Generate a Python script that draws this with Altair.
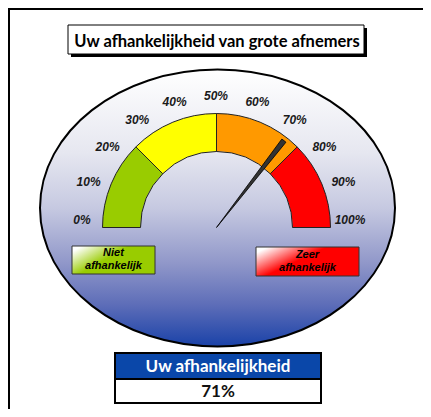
import math
import altair as alt
import pandas as pd

# ---------------- data ----------------
segment_names = ["laag", "matig", "hoog", "zeer hoog"]
segment_start = [0, 25, 50, 75]
segment_end = [25, 50, 75, 100]
segment_colors = ["#99CC00", "#FFFF00", "#FF9900", "#FF0000"]

tick_values = [0, 10, 20, 30, 40, 50, 60, 70, 80, 90, 100]
tick_labels = ["0%", "10%", "20%", "30%", "40%", "50%", "60%", "70%", "80%", "90%", "100%"]

score = [71]

title_text = ["Uw afhankelijkheid van grote afnemers"]
legend_low = ["Niet", "afhankelijk"]
legend_high = ["Zeer", "afhankelijk"]
table_header = ["Uw afhankelijkheid"]

# ---------------- layout constants ----------------
W, H = 415, 401
GX, GY = 208.5, 219.5          # gauge centre
theta_scale = alt.Scale(domain=[0, 100], range=[-math.pi / 2, math.pi / 2])

one = pd.DataFrame({"k": [0]})
seg_df = pd.DataFrame({"name": segment_names, "start": segment_start,
                       "end": segment_end, "color": segment_colors})
lab_df = pd.DataFrame({"p": tick_values, "label": tick_labels})
score_df = pd.DataFrame({"score": score})

# frame lines (top / left)
frame_top = alt.Chart(one).mark_rule(color="black", strokeWidth=2).encode(
    x=alt.value(0), x2=alt.value(W), y=alt.value(1))
frame_left = alt.Chart(one).mark_rule(color="black", strokeWidth=2).encode(
    x=alt.value(1), y=alt.value(0), y2=alt.value(H))

# title box
title_df = pd.DataFrame({"t": title_text})
title_shadow = alt.Chart(title_df).mark_rect(fill="black").encode(
    x=alt.value(63), x2=alt.value(359), y=alt.value(20), y2=alt.value(49))
title_box = alt.Chart(title_df).mark_rect(fill="white", stroke="black", strokeWidth=1).encode(
    x=alt.value(60), x2=alt.value(356), y=alt.value(17), y2=alt.value(46))
title_txt = alt.Chart(title_df).mark_text(
    font="Lato", fontSize=16.5, fontWeight="bold", color="black", baseline="alphabetic"
).encode(x=alt.value(209), y=alt.value(39), text="t:N")

# ellipse background
ell_grad = alt.LinearGradient(
    gradient="linear", x1=0, y1=0, x2=0, y2=1,
    stops=[alt.GradientStop(offset=0, color="#FFFFFF"),
           alt.GradientStop(offset=0.3, color="#E6E7F0"),
           alt.GradientStop(offset=0.5, color="#C6C9E1"),
           alt.GradientStop(offset=0.7, color="#9097C9"),
           alt.GradientStop(offset=0.85, color="#5D6DB8"),
           alt.GradientStop(offset=1, color="#1A42A8")])
ellipse = alt.Chart(one).mark_point(
    shape="M-1,0A1,0.78,0,1,1,1,0A1,0.78,0,1,1,-1,0Z",
    size=355 ** 2, filled=True, fill=ell_grad, stroke="black", strokeWidth=2, opacity=1
).encode(x=alt.value(209.5), y=alt.value(200))

# gauge segments
gauge = alt.Chart(seg_df).mark_arc(innerRadius=76, outerRadius=114, stroke="#222", strokeWidth=1).encode(
    theta=alt.Theta("start:Q", scale=theta_scale, stack=None),
    theta2="end:Q",
    color=alt.Color("color:N", scale=None, legend=None),
    x=alt.value(GX), y=alt.value(GY))

# tick labels
labels = alt.Chart(lab_df).transform_calculate(
    lx="208 - 134*cos(datum.p*PI/100)",
    ly="212 - 124*sin(datum.p*PI/100)"
).mark_text(font="Liberation Sans", fontSize=12, fontStyle="italic", fontWeight="bold", color="#1a1a1a").encode(
    x=alt.X("lx:Q", scale=None, axis=None),
    y=alt.Y("ly:Q", scale=None, axis=None),
    text="label:N")

# needle
needle = alt.Chart(score_df).transform_calculate(
    a="datum.score - 0.75", b="datum.score + 0.75"
).mark_arc(innerRadius=0, outerRadius=110, fill="#333333", stroke="#000000", strokeWidth=0.8).encode(
    theta=alt.Theta("a:Q", scale=theta_scale, stack=None),
    theta2="b:Q",
    x=alt.value(GX), y=alt.value(GY))

# legend boxes
def grad(col):
    return alt.LinearGradient(
        gradient="linear", x1=0, y1=0.2, x2=1, y2=0.8,
        stops=[alt.GradientStop(offset=0, color="#FFFFFF"),
               alt.GradientStop(offset=0.42, color=col),
               alt.GradientStop(offset=1, color=col)])

low_df = pd.DataFrame({"t": ["\n".join(legend_low)]})
high_df = pd.DataFrame({"t": ["\n".join(legend_high)]})
low_box = alt.Chart(low_df).mark_rect(fill=grad("#99CC00"), stroke="#333333", strokeWidth=1).encode(
    x=alt.value(64), x2=alt.value(147), y=alt.value(238), y2=alt.value(266))
low_txt = alt.Chart(low_df).mark_text(
    font="Liberation Sans", fontSize=11, fontStyle="italic", fontWeight="bold",
    color="black", lineBreak="\n", lineHeight=13
).encode(x=alt.value(105.5), y=alt.value(245), text="t:N")
high_box = alt.Chart(high_df).mark_rect(fill=grad("#FF0000"), stroke="#333333", strokeWidth=1).encode(
    x=alt.value(248), x2=alt.value(351), y=alt.value(239), y2=alt.value(268))
high_txt = alt.Chart(high_df).mark_text(
    font="Liberation Sans", fontSize=11, fontStyle="italic", fontWeight="bold",
    color="black", lineBreak="\n", lineHeight=13
).encode(x=alt.value(299.5), y=alt.value(247), text="t:N")

# result table
hdr_df = pd.DataFrame({"t": table_header})
hdr_box = alt.Chart(hdr_df).mark_rect(fill="#0A47A9", stroke="black", strokeWidth=2).encode(
    x=alt.value(107), x2=alt.value(313), y=alt.value(345), y2=alt.value(371))
hdr_txt = alt.Chart(hdr_df).mark_text(
    font="Lato", fontSize=17, fontWeight="bold", color="white"
).encode(x=alt.value(210), y=alt.value(359), text="t:N")
val_box = alt.Chart(score_df).mark_rect(fill="white", stroke="black", strokeWidth=2).encode(
    x=alt.value(107), x2=alt.value(313), y=alt.value(371), y2=alt.value(395))
val_txt = alt.Chart(score_df).transform_calculate(
    s="format(datum.score, 'd') + '%'"
).mark_text(font="Lato", fontSize=17, fontWeight="bold", color="#111111").encode(
    x=alt.value(210), y=alt.value(384), text="s:N")

chart = alt.layer(
    frame_top, frame_left,
    title_shadow, title_box, title_txt,
    ellipse, gauge, labels, needle,
    low_box, low_txt, high_box, high_txt,
    hdr_box, hdr_txt, val_box, val_txt
).properties(
    width=W, height=H,
    autosize=alt.AutoSizeParams(type="none"),
    padding=0,
    background="white"
).configure_view(stroke=None)

chart.save("out.html", embed_options={"renderer": "svg", "actions": False})
